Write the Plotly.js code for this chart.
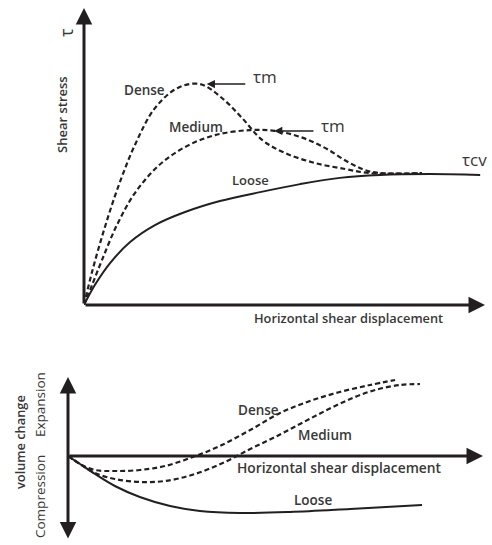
<!DOCTYPE html>
<html>
<head>
<meta charset="utf-8">
<script src="https://cdn.plot.ly/plotly-3.0.1.min.js"></script>
<style>html,body{margin:0;padding:0;background:#fff;}#chart{width:492px;height:545px;}</style>
</head>
<body>
<div id="chart"></div>
<script>
// ---- Top panel: shear stress vs horizontal shear displacement ----
const topDenseX  = [0, 2.0, 5.0, 8.5, 12.7, 17.7, 23.4, 28.9, 34.4, 39.4, 44.4, 50.1, 57.6, 65.1, 71.3, 84.3];
const topDenseY  = [0, 11.1, 25.3, 39.7, 53.9, 66.3, 73.1, 74.4, 69.7, 63.0, 55.6, 51.2, 47.8, 45.8, 44.4, 44.4];
const topMediumX = [0, 2.0, 4.5, 8.2, 12.7, 18.5, 25.2, 32.7, 41.4, 47.6, 53.9, 60.1, 66.3, 71.8, 84.3];
const topMediumY = [0, 6.7, 15.2, 26.9, 37.7, 46.8, 53.2, 57.2, 58.9, 58.6, 56.6, 52.9, 47.8, 44.8, 44.4];
const topLooseX  = [0, 2.7, 6.5, 11.5, 17.7, 25.2, 33.9, 43.9, 53.9, 63.8, 73.8, 86.3, 98.8];
const topLooseY  = [0, 6.7, 14.1, 21.2, 26.9, 31.3, 35.0, 38.0, 40.7, 42.8, 43.8, 44.1, 43.8];

// ---- Bottom panel: volume change vs horizontal shear displacement ----
const botDenseX  = [0, 2.9, 6.5, 11.3, 17.3, 23.4, 30.1, 36.6, 43.9, 51.1, 58.3, 65.5, 72.8, 78.8];
const botDenseY  = [0, -8, -14, -15, -14, -10, -1, 10, 26, 43, 55, 64, 71, 76];
const botMediumX = [0, 2.9, 6.5, 11.3, 17.3, 23.4, 30.6, 37.8, 43.9, 49.9, 55.9, 61.9, 68.0, 74.0, 80.0, 84.8];
const botMediumY = [0, -8, -17, -23, -26, -25, -18, -6, 7, 19, 32, 45, 57, 66, 71, 72];
const botLooseX  = [0, 2.9, 6.5, 11.3, 17.3, 24.6, 31.8, 41.4, 53.5, 68.0, 85.3];
const botLooseY  = [0, -8, -18, -30, -41, -50, -55, -57, -56, -53, -49];

const INK = '#231f20';
const TXT = '#383838';
const FONT = 'Open Sans, Liberation Sans, sans-serif';

function curve(x, y, dashed, xa, ya) {
  return {
    x: x, y: y, xaxis: xa, yaxis: ya, type: 'scatter', mode: 'lines',
    line: {color: INK, width: dashed ? 2.2 : 2, dash: dashed ? '5px,3px' : 'solid', shape: 'spline', smoothing: 1},
    hoverinfo: 'skip', showlegend: false
  };
}

const data = [
  curve(topLooseX, topLooseY, false, 'x', 'y'),
  curve(topMediumX, topMediumY, true, 'x', 'y'),
  curve(topDenseX, topDenseY, true, 'x', 'y'),
  curve(botLooseX, botLooseY, false, 'x2', 'y2'),
  curve(botMediumX, botMediumY, true, 'x2', 'y2'),
  curve(botDenseX, botDenseY, true, 'x2', 'y2')
];

function lbl(text, x, y, xref, yref, size, opts) {
  return Object.assign({
    text: text, x: x, y: y, xref: xref, yref: yref, showarrow: false,
    font: {family: FONT, size: size, color: TXT, weight: 600},
    xanchor: 'center', yanchor: 'middle'
  }, opts || {});
}

function arrow(x, y, ax, ay, xref, yref, w, s, side) {
  return {
    x: x, y: y, ax: ax, ay: ay, xref: xref, yref: yref, axref: xref, ayref: yref,
    text: '', showarrow: true, arrowhead: 2, arrowsize: s, arrowwidth: w,
    arrowcolor: INK, arrowside: side || 'end', standoff: 0, startstandoff: 0
  };
}

const reg = (size) => ({family: FONT, size: size, color: TXT, weight: 400});

const annotations = [
  // axes
  arrow(100, 0, 0, 0, 'x', 'y', 3, 1.1),
  arrow(0, 100, 0, 0, 'x', 'y', 3, 1.1),
  arrow(100, 0, 0, 0, 'x2', 'y2', 3, 1.1),
  {x: 0, y: 79, ax: 0, ay: -84, xref: 'x2', yref: 'y2', axref: 'x2', ayref: 'y2', text: '', showarrow: true,
   arrowhead: 2, startarrowhead: 2, arrowsize: 1.1, startarrowsize: 1.1, arrowwidth: 3, arrowcolor: INK,
   arrowside: 'end+start', standoff: 0, startstandoff: 0},
  // tau_m pointers
  arrow(30.6, 74.4, 40.6, 74.4, 'x', 'y', 1.5, 1.1),
  arrow(47.4, 58.6, 57.6, 58.6, 'x', 'y', 1.5, 1.1),
  // top labels
  lbl('Dense', 15.0, 72.4, 'x', 'y', 13.5),
  lbl('Medium', 27.9, 59.8, 'x', 'y', 13.5),
  lbl('Loose', 41.4, 42.1, 'x', 'y', 13),
  lbl('τm', 45.1, 77.0, 'x', 'y', 17, {font: reg(17)}),
  lbl('τm', 62.0, 60.6, 'x', 'y', 17, {font: reg(17)}),
  lbl('τcv', 93.8, 49.0, 'x', 'y', 17, {xanchor: 'left', font: reg(17)}),
  lbl('Horizontal shear displacement', 348/492, (545 - 318) / 545, 'paper', 'paper', 12.8),
  lbl('τ', 66/492, (545 - 33) / 545, 'paper', 'paper', 18, {textangle: -90, font: reg(18)}),
  lbl('Shear stress', 62/492, (545 - 114) / 545, 'paper', 'paper', 13, {textangle: -90}),
  // bottom labels
  lbl('Dense', 45.8, 46, 'x2', 'y2', 13.5),
  lbl('Medium', 61.9, 21, 'x2', 'y2', 13.5),
  lbl('Horizontal shear displacement', 65.4, -11, 'x2', 'y2', 13.8),
  lbl('Loose', 59.0, -44, 'x2', 'y2', 13.5),
  lbl('volume change', 20/492, (545 - 442) / 545, 'paper', 'paper', 12.8, {textangle: -90}),
  lbl('Expansion', 40/492, (545 - 405) / 545, 'paper', 'paper', 13.5, {textangle: -90, font: reg(13.5)}),
  lbl('Compression', 40/492, (545 - 497) / 545, 'paper', 'paper', 13.5, {textangle: -90, font: reg(13.5)})
];

const hidden = {visible: false, showgrid: false, zeroline: false, fixedrange: true};

const layout = {
  width: 492, height: 545,
  margin: {l: 0, r: 0, t: 0, b: 0},
  paper_bgcolor: '#ffffff', plot_bgcolor: 'rgba(0,0,0,0)',
  showlegend: false,
  xaxis: Object.assign({domain: [84/492, 485/492], range: [0, 100], anchor: 'y'}, hidden),
  yaxis: Object.assign({domain: [240/545, 537/545], range: [0, 100], anchor: 'x'}, hidden),
  xaxis2: Object.assign({domain: [68/492, 483/492], range: [0, 100], anchor: 'y2'}, hidden),
  yaxis2: Object.assign({domain: [5/545, 168/545], range: [-84, 79], anchor: 'x2'}, hidden),
  annotations: annotations
};

Plotly.newPlot('chart', data, layout, {staticPlot: true, displayModeBar: false});
</script>
</body>
</html>
